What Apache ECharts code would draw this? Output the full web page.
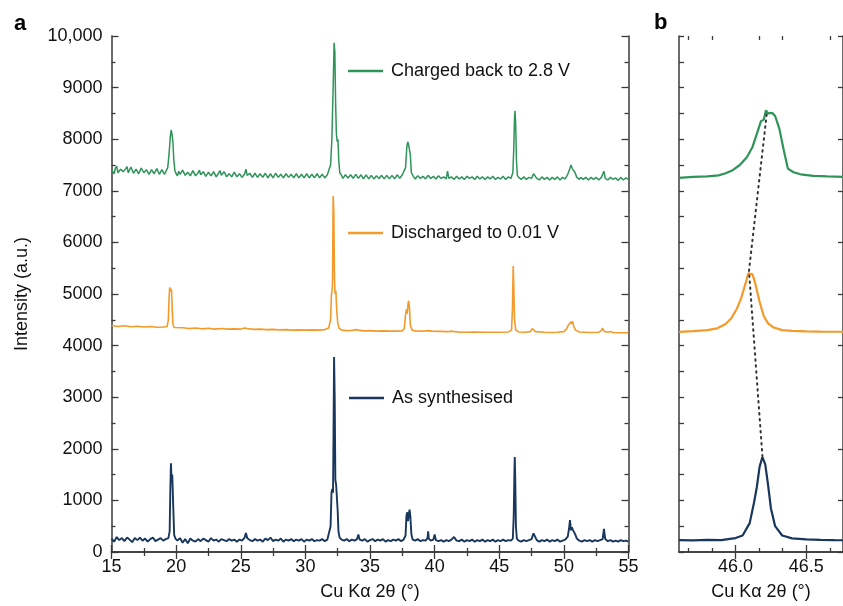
<!DOCTYPE html>
<html>
<head>
<meta charset="utf-8">
<script src="https://cdn.jsdelivr.net/npm/echarts@6/dist/echarts.min.js"></script>
<style>html,body{margin:0;padding:0;background:#fff;}#chart{width:843px;height:606px;}</style>
</head>
<body>
<div id="chart"></div>
<script>
// ---------- DATA ----------
const seriesNames = ['Charged back to 2.8 V', 'Discharged to 0.01 V', 'As synthesised'];
const xTicksA = [15, 20, 25, 30, 35, 40, 45, 50, 55];
const yTicksA = [0, 1000, 2000, 3000, 4000, 5000, 6000, 7000, 8000, 9000, 10000];
const xTicksB = [46.0, 46.5];
const xMinorTicksB = [45.667, 45.833, 46.167, 46.333, 46.667];

const asSynthA = [[15.0,260],[15.2,200],[15.4,290],[15.6,230],[15.8,270],[16.0,210],[16.2,280],[16.4,240],[16.6,190],[16.8,270],[17.0,230],[17.2,280],[17.4,220],[17.6,260],[17.8,200],[18.0,250],[18.2,280],[18.4,210],[18.6,240],[18.8,270],[19.0,220],[19.2,250],[19.4,270],[19.5,400],[19.55,1200],[19.6,1720],[19.65,1350],[19.7,1500],[19.75,1480],[19.8,700],[19.85,330],[19.95,260],[20.1,220],[20.3,270],[20.5,180],[20.7,250],[20.9,170],[21.1,260],[21.3,220],[21.5,200],[21.7,250],[21.9,210],[22.1,260],[22.3,230],[22.5,200],[22.7,270],[22.9,220],[23.1,240],[23.3,200],[23.5,250],[23.7,230],[23.9,210],[24.1,250],[24.3,220],[24.5,240],[24.7,200],[24.9,240],[25.1,220],[25.3,280],[25.4,370],[25.5,270],[25.7,230],[25.9,210],[26.1,250],[26.3,220],[26.5,240],[26.7,200],[26.9,260],[27.1,230],[27.3,280],[27.5,210],[27.7,240],[27.9,220],[28.1,260],[28.3,200],[28.5,240],[28.7,220],[28.9,250],[29.1,210],[29.3,240],[29.5,220],[29.7,250],[29.9,200],[30.1,240],[30.3,220],[30.5,250],[30.7,210],[30.9,230],[31.1,220],[31.3,250],[31.5,210],[31.7,240],[31.85,270],[31.95,500],[32.02,1150],[32.08,1220],[32.14,1150],[32.18,2400],[32.22,3780],[32.27,3000],[32.32,1400],[32.38,1300],[32.44,1320],[32.5,800],[32.56,400],[32.65,280],[32.8,240],[33.0,220],[33.2,250],[33.4,210],[33.6,240],[33.8,220],[34.0,250],[34.1,340],[34.2,240],[34.4,220],[34.6,250],[34.8,200],[35.0,230],[35.2,250],[35.4,210],[35.6,240],[35.8,220],[36.0,250],[36.2,200],[36.4,230],[36.6,210],[36.8,240],[37.0,220],[37.2,250],[37.4,210],[37.6,240],[37.75,320],[37.82,700],[37.88,770],[37.94,600],[38.0,720],[38.06,820],[38.12,700],[38.2,350],[38.3,240],[38.5,220],[38.7,250],[38.9,210],[39.1,230],[39.3,220],[39.45,270],[39.5,400],[39.55,260],[39.7,220],[39.9,240],[40.0,340],[40.1,230],[40.3,210],[40.5,230],[40.7,200],[40.9,230],[41.1,210],[41.3,240],[41.5,290],[41.7,220],[41.9,210],[42.1,240],[42.3,200],[42.5,230],[42.7,210],[42.9,240],[43.1,200],[43.3,230],[43.5,210],[43.7,240],[43.9,200],[44.1,230],[44.3,210],[44.5,240],[44.7,200],[44.9,230],[45.1,210],[45.3,240],[45.5,210],[45.7,230],[45.9,220],[46.05,260],[46.12,700],[46.17,1500],[46.2,1840],[46.24,1400],[46.29,500],[46.36,260],[46.5,220],[46.7,200],[46.9,230],[47.1,210],[47.3,230],[47.5,250],[47.65,360],[47.75,330],[47.9,230],[48.1,200],[48.3,230],[48.5,210],[48.7,240],[48.9,200],[49.1,230],[49.3,210],[49.5,240],[49.7,200],[49.9,220],[50.1,240],[50.3,300],[50.4,450],[50.47,620],[50.55,420],[50.62,480],[50.7,430],[50.8,460],[50.9,330],[51.0,260],[51.2,220],[51.4,200],[51.6,230],[51.8,210],[52.0,230],[52.2,200],[52.4,230],[52.6,210],[52.8,230],[53.0,250],[53.1,450],[53.2,250],[53.4,210],[53.6,230],[53.8,200],[54.0,220],[54.2,200],[54.4,230],[54.6,210],[54.8,220],[55.0,200]];

const dischargedA = [[15.0,4390],[15.5,4370],[16.0,4385],[16.5,4365],[17.0,4375],[17.5,4360],[18.0,4370],[18.5,4355],[19.0,4360],[19.3,4370],[19.4,4500],[19.45,4900],[19.5,5130],[19.55,5050],[19.6,5100],[19.65,5060],[19.7,4700],[19.75,4420],[19.85,4350],[20.0,4340],[20.5,4345],[21.0,4330],[21.5,4340],[22.0,4325],[22.5,4335],[23.0,4320],[23.5,4330],[24.0,4320],[24.5,4325],[25.0,4320],[25.3,4340],[25.4,4370],[25.5,4330],[26.0,4315],[26.5,4320],[27.0,4310],[27.5,4315],[28.0,4305],[28.5,4310],[29.0,4300],[29.5,4305],[30.0,4300],[30.5,4305],[31.0,4300],[31.5,4310],[31.8,4340],[31.95,4500],[32.02,5000],[32.06,5060],[32.1,5200],[32.15,6900],[32.2,6600],[32.25,5300],[32.3,5000],[32.36,5060],[32.42,4700],[32.5,4450],[32.6,4340],[32.8,4300],[33.2,4290],[33.6,4295],[33.9,4310],[34.0,4340],[34.1,4300],[34.5,4285],[35.0,4290],[35.5,4280],[36.0,4285],[36.5,4280],[37.0,4280],[37.5,4285],[37.65,4330],[37.75,4600],[37.82,4700],[37.88,4620],[37.95,4820],[38.0,4870],[38.06,4700],[38.12,4400],[38.25,4300],[38.5,4285],[39.0,4280],[39.3,4285],[39.45,4310],[39.55,4290],[39.7,4300],[39.8,4280],[40.5,4275],[41.0,4270],[41.3,4280],[41.45,4310],[41.6,4270],[42.0,4260],[43.0,4265],[44.0,4260],[45.0,4260],[45.7,4265],[45.95,4300],[46.02,4700],[46.08,5540],[46.12,5200],[46.18,4500],[46.28,4300],[46.5,4265],[47.0,4260],[47.4,4270],[47.55,4330],[47.65,4320],[47.8,4270],[48.5,4260],[49.0,4255],[49.5,4260],[50.0,4270],[50.2,4320],[50.35,4400],[50.45,4380],[50.55,4460],[50.6,4420],[50.68,4470],[50.75,4380],[50.9,4300],[51.2,4265],[52.0,4255],[52.7,4260],[52.9,4290],[53.0,4340],[53.1,4280],[53.4,4260],[53.6,4275],[53.8,4255],[54.3,4250],[55.0,4250]];

const chargedA = [[15.0,7420],[15.1,7370],[15.2,7330],[15.3,7440],[15.4,7480],[15.5,7350],[15.6,7360],[15.7,7420],[15.8,7450],[15.9,7370],[16.0,7340],[16.1,7430],[16.2,7470],[16.3,7350],[16.4,7380],[16.5,7460],[16.6,7430],[16.7,7340],[16.8,7330],[16.9,7420],[17.0,7410],[17.1,7330],[17.2,7360],[17.3,7440],[17.4,7450],[17.5,7350],[17.6,7340],[17.7,7410],[17.8,7400],[17.9,7320],[18.0,7320],[18.1,7410],[18.2,7420],[18.3,7330],[18.4,7350],[18.5,7430],[18.6,7400],[18.7,7320],[18.8,7330],[18.9,7410],[19.0,7380],[19.1,7320],[19.2,7350],[19.35,7450],[19.45,7700],[19.55,8050],[19.62,8180],[19.68,8100],[19.75,7950],[19.82,7600],[19.9,7400],[20.0,7330],[20.1,7290],[20.2,7380],[20.3,7320],[20.4,7300],[20.5,7400],[20.6,7390],[20.7,7300],[20.8,7280],[20.9,7360],[21.0,7370],[21.1,7290],[21.2,7310],[21.3,7390],[21.4,7360],[21.5,7290],[21.6,7280],[21.7,7350],[21.8,7400],[21.9,7310],[22.0,7300],[22.1,7370],[22.2,7350],[22.3,7280],[22.4,7270],[22.5,7360],[22.6,7380],[22.7,7290],[22.8,7300],[22.9,7370],[23.0,7340],[23.1,7270],[23.2,7280],[23.3,7350],[23.4,7390],[23.5,7300],[23.6,7300],[23.7,7370],[23.8,7330],[23.9,7270],[24.0,7260],[24.1,7330],[24.2,7350],[24.3,7270],[24.4,7290],[24.5,7360],[24.6,7330],[24.7,7270],[24.8,7270],[24.9,7330],[25.0,7320],[25.1,7260],[25.2,7290],[25.3,7330],[25.4,7420],[25.5,7300],[25.6,7280],[25.7,7340],[25.8,7330],[25.9,7260],[26.0,7270],[26.1,7340],[26.2,7320],[26.3,7260],[26.4,7260],[26.5,7330],[26.6,7330],[26.7,7260],[26.8,7280],[26.9,7340],[27.0,7320],[27.1,7250],[27.2,7260],[27.3,7330],[27.4,7310],[27.5,7250],[27.6,7280],[27.7,7340],[27.8,7330],[27.9,7260],[28.0,7260],[28.1,7320],[28.2,7300],[28.3,7250],[28.4,7270],[28.5,7330],[28.6,7340],[28.7,7260],[28.8,7260],[28.9,7320],[29.0,7300],[29.1,7250],[29.2,7270],[29.3,7330],[29.4,7320],[29.5,7250],[29.6,7260],[29.7,7320],[29.8,7300],[29.9,7250],[30.0,7270],[30.1,7330],[30.2,7320],[30.3,7250],[30.4,7260],[30.5,7320],[30.6,7300],[30.7,7250],[30.8,7270],[30.9,7330],[31.0,7310],[31.1,7250],[31.2,7260],[31.3,7320],[31.4,7300],[31.5,7250],[31.6,7270],[31.7,7310],[31.8,7320],[31.95,7500],[32.05,8000],[32.15,9000],[32.22,9870],[32.28,9700],[32.34,8700],[32.4,8100],[32.46,7950],[32.52,8000],[32.58,7600],[32.66,7350],[32.8,7300],[32.9,7240],[33.0,7260],[33.1,7310],[33.2,7320],[33.3,7250],[33.4,7240],[33.5,7310],[33.6,7300],[33.7,7240],[33.8,7260],[33.9,7320],[34.0,7310],[34.1,7240],[34.2,7250],[34.3,7310],[34.4,7290],[34.5,7230],[34.6,7240],[34.7,7310],[34.8,7300],[34.9,7230],[35.0,7250],[35.1,7300],[35.2,7280],[35.3,7230],[35.4,7230],[35.5,7290],[35.6,7300],[35.7,7240],[35.8,7250],[35.9,7300],[36.0,7280],[36.1,7230],[36.2,7240],[36.3,7300],[36.4,7290],[36.5,7230],[36.6,7240],[36.7,7300],[36.8,7280],[36.9,7230],[37.0,7250],[37.1,7310],[37.2,7300],[37.3,7240],[37.4,7250],[37.5,7310],[37.6,7290],[37.75,7450],[37.85,7850],[37.92,7950],[37.98,7900],[38.05,7920],[38.12,7700],[38.2,7350],[38.35,7280],[38.45,7310],[38.5,7230],[38.6,7240],[38.7,7290],[38.8,7300],[38.9,7240],[39.0,7230],[39.1,7280],[39.2,7290],[39.3,7230],[39.4,7240],[39.5,7300],[39.6,7280],[39.7,7240],[39.8,7230],[39.9,7280],[40.0,7290],[40.1,7230],[40.2,7240],[40.3,7290],[40.4,7280],[40.5,7240],[40.6,7220],[40.7,7270],[40.8,7280],[40.9,7230],[41.0,7380],[41.1,7240],[41.2,7220],[41.3,7270],[41.4,7280],[41.5,7220],[41.6,7230],[41.7,7280],[41.8,7270],[41.9,7230],[42.0,7220],[42.1,7270],[42.2,7280],[42.3,7220],[42.4,7230],[42.5,7280],[42.6,7270],[42.7,7240],[42.8,7220],[42.9,7270],[43.0,7280],[43.1,7220],[43.2,7230],[43.3,7280],[43.4,7270],[43.5,7230],[43.6,7220],[43.7,7270],[43.8,7280],[43.9,7220],[44.0,7220],[44.1,7270],[44.2,7270],[44.3,7230],[44.4,7220],[44.5,7280],[44.6,7270],[44.7,7220],[44.8,7230],[44.9,7260],[45.0,7280],[45.1,7230],[45.2,7220],[45.3,7280],[45.4,7270],[45.5,7220],[45.6,7230],[45.7,7270],[45.8,7280],[45.9,7240],[46.05,7350],[46.12,7800],[46.18,8400],[46.22,8550],[46.27,8300],[46.33,7600],[46.4,7300],[46.5,7260],[46.6,7280],[46.7,7220],[46.8,7210],[46.9,7270],[47.0,7260],[47.1,7220],[47.2,7210],[47.3,7260],[47.4,7270],[47.5,7240],[47.65,7330],[47.75,7310],[47.9,7240],[48.0,7260],[48.1,7210],[48.2,7220],[48.3,7270],[48.4,7260],[48.5,7220],[48.6,7210],[48.7,7260],[48.8,7270],[48.9,7210],[49.0,7220],[49.1,7260],[49.2,7270],[49.3,7220],[49.4,7210],[49.5,7270],[49.6,7260],[49.7,7210],[49.8,7220],[49.9,7260],[50.0,7270],[50.1,7230],[50.2,7260],[50.3,7320],[50.45,7420],[50.55,7500],[50.65,7430],[50.75,7450],[50.85,7360],[51.0,7260],[51.1,7240],[51.2,7220],[51.3,7260],[51.4,7270],[51.5,7220],[51.6,7210],[51.7,7260],[51.8,7260],[51.9,7210],[52.0,7220],[52.1,7260],[52.2,7270],[52.3,7220],[52.4,7210],[52.5,7260],[52.6,7250],[52.7,7210],[52.8,7220],[52.9,7260],[53.0,7260],[53.1,7380],[53.2,7240],[53.3,7260],[53.4,7210],[53.5,7220],[53.6,7260],[53.7,7250],[53.8,7220],[53.9,7200],[54.0,7250],[54.1,7260],[54.2,7200],[54.3,7220],[54.4,7260],[54.5,7250],[54.6,7210],[54.7,7200],[54.8,7250],[54.9,7240],[55.0,7220]];

const asSynthB = [[45.6,230],[45.7,225],[45.8,235],[45.9,230],[45.96,255],[46.0,270],[46.05,320],[46.1,560],[46.13,950],[46.15,1250],[46.17,1650],[46.19,1840],[46.21,1700],[46.23,1300],[46.25,850],[46.28,500],[46.33,320],[46.4,265],[46.5,245],[46.6,235],[46.7,230],[46.76,228]];
const dischargedB = [[45.6,4265],[45.7,4280],[45.8,4300],[45.87,4335],[45.93,4420],[45.97,4530],[46.01,4720],[46.04,4920],[46.07,5200],[46.09,5400],[46.1,5430],[46.12,5380],[46.14,5200],[46.17,4850],[46.2,4570],[46.23,4430],[46.27,4350],[46.33,4300],[46.4,4285],[46.5,4275],[46.6,4270],[46.76,4268]];
const chargedB = [[45.6,7250],[45.7,7270],[45.8,7280],[45.88,7300],[45.93,7340],[45.98,7400],[46.03,7500],[46.08,7650],[46.12,7850],[46.15,8100],[46.18,8350],[46.2,8380],[46.215,8560],[46.23,8500],[46.26,8510],[46.28,8450],[46.31,8200],[46.34,7800],[46.37,7430],[46.41,7360],[46.46,7320],[46.55,7290],[46.65,7280],[46.76,7270]];
const peakShift = [[46.22,8480],[46.095,5450],[46.19,1860]];

// ---------- STYLE ----------
const FONT = "'Liberation Sans', Arial, Helvetica, sans-serif";
const COLORS = ['#2f9459', '#f39a2b', '#19365c'];
const AXIS_COLOR = '#3a3a3a';
const TEXT_COLOR = '#111';
const axisLine = { show: true, lineStyle: { color: AXIS_COLOR, width: 1.5 } };

function xAxisA(pos, showLabels) {
  return {
    type: 'value', gridIndex: 0, position: pos, min: 15, max: 55, interval: 5,
    axisLine: axisLine,
    axisTick: { show: true, inside: true, length: 7, lineStyle: { color: AXIS_COLOR, width: 1.3 } },
    minorTick: { show: true, splitNumber: 2, length: 4, lineStyle: { color: AXIS_COLOR, width: 1.3 } },
    axisLabel: { show: showLabels, fontFamily: FONT, fontSize: 18, color: TEXT_COLOR, margin: 6 },
    splitLine: { show: false },
    name: showLabels ? 'Cu Kα 2θ (°)' : '', nameLocation: 'middle', nameGap: 31,
    nameTextStyle: { fontFamily: FONT, fontSize: 18, color: TEXT_COLOR }
  };
}
function yAxisA(pos, showLabels) {
  return {
    type: 'value', gridIndex: 0, position: pos, min: 0, max: 10000, interval: 1000,
    axisLine: axisLine,
    axisTick: { show: true, inside: true, length: 7, lineStyle: { color: AXIS_COLOR, width: 1.3 } },
    minorTick: { show: true, splitNumber: 2, length: 4, lineStyle: { color: AXIS_COLOR, width: 1.3 } },
    axisLabel: { show: showLabels, fontFamily: FONT, fontSize: 18, color: TEXT_COLOR, margin: 9,
      formatter: v => v >= 10000 ? '10,000' : String(v) },
    splitLine: { show: false },
    name: showLabels ? 'Intensity (a.u.)' : '', nameLocation: 'middle', nameGap: 80,
    nameTextStyle: { fontFamily: FONT, fontSize: 18, color: TEXT_COLOR }
  };
}
function xAxisB(pos, major) {
  return {
    type: 'value', gridIndex: 1, position: pos, min: 45.6, max: 46.76,
    axisLine: major ? axisLine : { show: false },
    axisTick: { show: true, inside: true, length: major ? 7 : 4, customValues: major ? xTicksB : xMinorTicksB,
      lineStyle: { color: AXIS_COLOR, width: 1.3 } },
    axisLabel: { show: major && pos === 'bottom', customValues: xTicksB, fontFamily: FONT, fontSize: 18, color: TEXT_COLOR, margin: 6,
      formatter: v => Number(v).toFixed(1) },
    splitLine: { show: false },
    name: (major && pos === 'bottom') ? 'Cu Kα 2θ (°)' : '', nameLocation: 'middle', nameGap: 31,
    nameTextStyle: { fontFamily: FONT, fontSize: 18, color: TEXT_COLOR }
  };
}
function yAxisB(pos, interval) {
  return {
    type: 'value', gridIndex: 1, position: pos, min: 0, max: 10000, interval: interval,
    axisLine: axisLine,
    axisTick: { show: true, inside: true, length: 5, lineStyle: { color: AXIS_COLOR, width: 1.3 } },
    axisLabel: { show: false },
    splitLine: { show: false }
  };
}
function legendAt(name, left, top) {
  return {
    data: [name], left: left, top: top, padding: 0, orient: 'horizontal',
    icon: 'rect', itemWidth: 35, itemHeight: 2.5, itemGap: 0, selectedMode: false,
    textStyle: { fontFamily: FONT, fontSize: 18, color: TEXT_COLOR, padding: [0, 0, 0, 3] }
  };
}
function lineSeries(name, data, color, xi, yi, width) {
  return {
    type: 'line', name: name, data: data, xAxisIndex: xi, yAxisIndex: yi,
    symbol: 'none', smooth: false, clip: true,
    lineStyle: { color: color, width: width }, itemStyle: { color: color }
  };
}

const option = {
  animation: false,
  backgroundColor: '#fff',
  title: [
    { text: 'a', left: 9, top: 8, textStyle: { fontFamily: FONT, fontSize: 22, fontWeight: 'bold', color: '#000' } },
    { text: 'b', left: 649, top: 7, textStyle: { fontFamily: FONT, fontSize: 22, fontWeight: 'bold', color: '#000' } }
  ],
  grid: [
    { left: 111.5, top: 36, width: 517, height: 516 },
    { left: 679, top: 36, width: 165.4, height: 516 }
  ],
  legend: [
    legendAt(seriesNames[0], 348, 62),
    legendAt(seriesNames[1], 348, 224),
    legendAt(seriesNames[2], 349, 389)
  ],
  xAxis: [
    xAxisA('bottom', true), xAxisA('top', false),
    xAxisB('bottom', true), xAxisB('top', true),
    xAxisB('bottom', false), xAxisB('top', false)
  ],
  yAxis: [
    yAxisA('left', true), yAxisA('right', false),
    yAxisB('left', 500), yAxisB('right', 1000)
  ],
  series: [
    lineSeries(seriesNames[0], chargedA, COLORS[0], 0, 0, 1.5),
    lineSeries(seriesNames[1], dischargedA, COLORS[1], 0, 0, 1.6),
    lineSeries(seriesNames[2], asSynthA, COLORS[2], 0, 0, 1.9),
    lineSeries(seriesNames[0], chargedB, COLORS[0], 2, 2, 2.2),
    lineSeries(seriesNames[1], dischargedB, COLORS[1], 2, 2, 2.2),
    lineSeries(seriesNames[2], asSynthB, COLORS[2], 2, 2, 2.2),
    {
      type: 'line', name: 'peak shift', data: peakShift, xAxisIndex: 2, yAxisIndex: 2,
      symbol: 'none', z: 5,
      lineStyle: { color: '#333', width: 2, type: [1.5, 4.5], cap: 'round' }
    }
  ]
};

const chart = echarts.init(document.getElementById('chart'), null, { renderer: 'canvas' });
chart.setOption(option);
</script>
</body>
</html>
